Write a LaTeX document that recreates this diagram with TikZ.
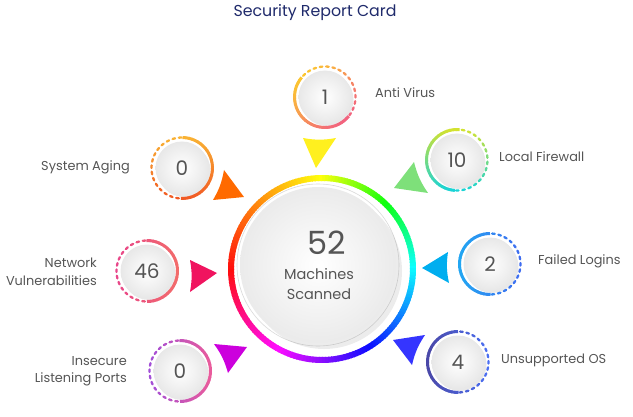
\documentclass[tikz,border=0pt]{standalone}
\usepackage{fontspec}
\setmainfont{Poppins}
\usetikzlibrary{shadows}
\definecolor{titleblue}{HTML}{1F2A6B}
\definecolor{numgray}{HTML}{555555}
\definecolor{avyellow}{HTML}{FFF01F}
\definecolor{lfgreen}{HTML}{7EE07A}
\definecolor{saorange}{HTML}{FF6A00}
\definecolor{nvred}{HTML}{F0145F}
\definecolor{ilpmagenta}{HTML}{CC00DD}
\definecolor{uosblue}{HTML}{3535FF}
\definecolor{flcyan}{HTML}{00AEEF}

% #1 node, #2 start of solid half, #3 gradient angle, #4 colour there, #5 opposite colour
\newcommand\statring[5]{%
  \definecolor{ringa}{HTML}{#4}%
  \definecolor{ringb}{HTML}{#5}%
  \foreach \a in {0,6,...,174}{%
    \pgfmathsetmacro\mixval{50-50*cos(#2+\a+3-#3)}%
    \draw[line width=3pt,color=ringb!\mixval!ringa] (#1.center) ++(#2+\a:30.5) arc[start angle=#2+\a,end angle=#2+\a+7,radius=30.5];
  }%
  \foreach \a in {183,195,...,351}{%
    \pgfmathsetmacro\mixval{50-50*cos(#2+\a+3-#3)}%
    \draw[line width=2.3pt,line cap=round,color=ringb!\mixval!ringa] (#1.center) ++(#2+\a:30.5) arc[start angle=#2+\a,end angle=#2+\a+5,radius=30.5];
  }%
}

\begin{document}
\begin{tikzpicture}[x=1pt,y=1pt,
  statnum/.style={circle,minimum size=53pt,inner sep=0pt,shading=radial,inner color=white,outer color=black!9,drop shadow={shadow xshift=2pt,shadow yshift=-2.5pt,opacity=.18},text=numgray,font=\fontsize{20}{20}\selectfont},
  statlabel/.style={text=numgray,font=\fontsize{12.9}{17.5}\selectfont,inner sep=0pt},
  pointer/.style={fill=#1}]

  \useasboundingbox (0,0) rectangle (633,416);

  \node[text=titleblue,font=\fontsize{15.8}{16}\selectfont] (title) at (315,403) {Security Report Card};

  \coordinate (ring) at (322,147);
  \foreach \a in {0,2,...,358}{
    \pgfmathsetmacro\cw{mod(450-\a,360)}
    \pgfmathsetmacro\hraw{\cw<90 ? 60+\cw*4/3 : (\cw<270 ? 90+\cw : 180+\cw*2/3)}
    \pgfmathsetmacro\hue{mod(\hraw,360)}
    \definecolor{ringhue}{Hsb}{\hue,0.95,1}
    \draw[ringhue,line width=6pt] (ring) ++(\a:91) arc[start angle=\a,end angle=\a+2.6,radius=91];
  }
  \draw[black!15,line width=.6pt] (318,151) circle (81);
  \node[circle,minimum size=156pt,inner sep=0pt,shading=radial,inner color=white,outer color=black!8,
    drop shadow={shadow xshift=6pt,shadow yshift=-6pt,opacity=.15}] (core) at (318,151) {};
  \node[text=numgray,font=\fontsize{32}{32}\selectfont] (total) at (327,173) {52};
  \node[text=numgray,font=\fontsize{14.5}{19.5}\selectfont,align=center] (scanned) at (319,132) {Machines\\Scanned};

  \node[statnum] (av) at (325,319) {1};
  \node[statnum] (lf) at (457,256) {10};
  \node[statnum] (fl) at (490,152) {2};
  \node[statnum] (uos) at (458,54) {4};
  \node[statnum] (ilp) at (180,45) {0};
  \node[statnum] (nv) at (147,145) {46};
  \node[statnum] (sa) at (182,248) {0};

  \statring{av}{140}{135}{FBC531}{F2637F}
  \statring{lf}{85}{90}{D3E22F}{19D3D6}
  \statring{fl}{90}{180}{22A6F2}{3F6CF0}
  \statring{uos}{90}{180}{4A48A8}{4B6FF2}
  \statring{ilp}{-90}{0}{E95B9C}{A24FD8}
  \statring{nv}{-90}{0}{F26B6B}{E8468A}
  \statring{sa}{-92}{90}{F9B233}{F15A24}

  \node[statlabel,anchor=west] (avlabel) at (375,323) {Anti Virus};
  \node[statlabel,anchor=west] (lflabel) at (499,259) {Local Firewall};
  \node[statlabel,anchor=west] (fllabel) at (538,155) {Failed Logins};
  \node[statlabel,anchor=west] (uoslabel) at (501,56) {Unsupported OS};
  \node[statlabel,anchor=east,align=right] (ilplabel) at (127,45) {Insecure\\Listening Ports};
  \node[statlabel,anchor=east,align=right] (nvlabel) at (97,144) {Network\\Vulnerabilities};
  \node[statlabel,anchor=east] (salabel) at (130,249) {System Aging};

  \fill[pointer=avyellow] (303,278) to[bend right=10] (336,278) -- (316,248) -- cycle;
  \fill[pointer=lfgreen] (414,254) to[bend right=10] (428,223) -- (394,228) -- cycle;
  \fill[pointer=flcyan] (448,164) to[bend right=10] (449,133) -- (422,148) -- cycle;
  \fill[pointer=uosblue] (425,81) to[bend right=10] (412,51) -- (393,76) -- cycle;
  \fill[pointer=ilpmagenta] (228,43) to[bend right=10] (214,72) -- (247,69) -- cycle;
  \fill[pointer=nvred] (190,124) to[bend right=10] (190,156) -- (217,143) -- cycle;
  \fill[pointer=saorange] (213,216) to[bend right=10] (224,246) -- (244,219) -- cycle;
\end{tikzpicture}
\end{document}
